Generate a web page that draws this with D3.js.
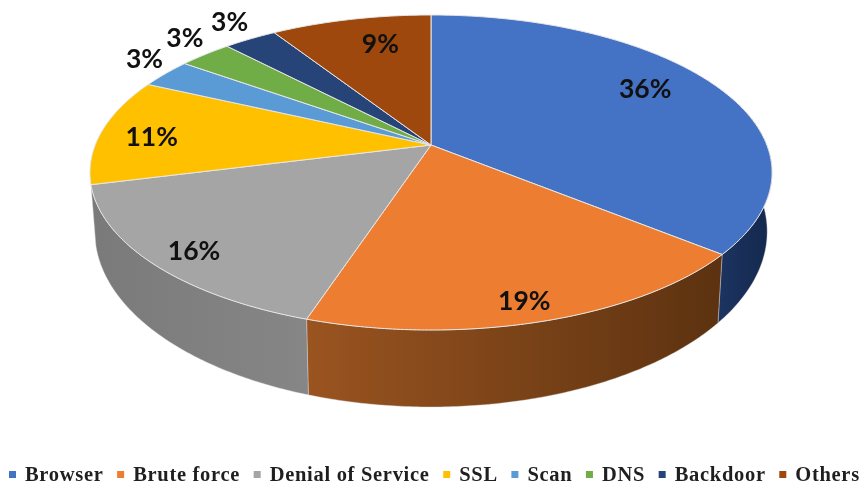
<!DOCTYPE html>
<html>
<head>
<meta charset="utf-8">
<script src="https://cdn.jsdelivr.net/npm/d3@7/dist/d3.min.js"></script>
<style>
    html, body { margin: 0; background: #fff; }
    svg { display: block; filter: blur(0.6px); }
</style>
</head>
<body>
<svg id="chart" width="862" height="484"></svg>
<script>
// Chart data
const categories = ['Browser', 'Brute force', 'Denial of Service', 'SSL', 'Scan', 'DNS', 'Backdoor', 'Others'];
const shares = [36, 19, 16, 11, 3, 3, 3, 9];
const colors = ['#4472c4', '#ed7d31', '#a5a5a5', '#ffc000', '#5b9bd5', '#70ad47', '#264478', '#9e480e'];

// Side wall shading, left to right, for the slices that show a wall
const wallShades = {
    'Browser': ['#1c3461', '#14284d'],
    'Brute force': ['#9a5420', '#5c3210'],
    'Denial of Service': ['#7a7a7a', '#868686']
};

// Where each label sits, as a nudge from the slice's inner point
const labelNudges = [[12, -14], [19, 39], [-50, 25], [-48, 1], [-96, -36], [-83, -43], [-70, -47], [8, -10]];

const svg = d3.select('#chart');
const defs = svg.append('defs');

// The pie is tilted, so the apex is not the middle of the ellipse
const tilt = 0.1746;
const topFace = { cx: 431, cy: 145, rx: 335.8, ry: 152.7 };
const baseFace = { cx: 431, cy: 201, rx: 331, ry: 170 };

function project(face, angle, r = 1) {
    const u = r * Math.sin(angle);
    const v = r * Math.cos(angle);
    const w = 1 + tilt * v;
    return [face.cx + face.rx * u / w, face.cy - face.ry * v / w];
}

function rim(face, start, end) {
    const steps = Math.max(2, Math.ceil((end - start) / 0.01));
    return d3.range(steps + 1).map(i => project(face, start + (end - start) * i / steps));
}

const line = d3.line();
const arcs = d3.pie().sort(null)(shares);

// Side walls first, the top face covers what is behind it
const wallFrom = Math.PI * 0.4;
const walls = svg.append('g');
arcs.forEach((d, i) => {
    const shade = wallShades[categories[i]];
    if (!shade) return;
    const start = Math.max(d.startAngle, wallFrom);
    const upper = rim(topFace, start, d.endAngle);
    const lower = rim(baseFace, start, d.endAngle).reverse();
    const xs = upper.concat(lower).map(p => p[0]);

    const gradient = defs.append('linearGradient')
        .attr('id', `wall-${i}`)
        .attr('gradientUnits', 'userSpaceOnUse')
        .attr('x1', d3.min(xs)).attr('x2', d3.max(xs))
        .attr('y1', 0).attr('y2', 0);
    gradient.append('stop').attr('offset', 0).attr('stop-color', shade[0]);
    gradient.append('stop').attr('offset', 1).attr('stop-color', shade[1]);

    walls.append('path')
        .attr('d', line(upper.concat(lower)) + 'Z')
        .attr('fill', `url(#wall-${i})`)
        .attr('stroke', '#d9d9d9')
        .attr('stroke-width', 0.8)
        .attr('stroke-opacity', 0.5);
});

// Top face
svg.append('g')
    .selectAll('path')
    .data(arcs)
    .join('path')
    .attr('d', d => line([[topFace.cx, topFace.cy]].concat(rim(topFace, d.startAngle, d.endAngle))) + 'Z')
    .attr('fill', (d, i) => colors[i])
    .attr('stroke', '#e6e6e6')
    .attr('stroke-width', 1)
    .attr('stroke-linejoin', 'round');

// Percent labels
svg.append('g')
    .selectAll('text')
    .data(arcs)
    .join('text')
    .attr('transform', (d, i) => {
        const p = project(topFace, (d.startAngle + d.endAngle) / 2, 0.7);
        return `translate(${p[0] + labelNudges[i][0]},${p[1] + labelNudges[i][1]})`;
    })
    .attr('text-anchor', 'middle')
    .attr('dominant-baseline', 'central')
    .attr('font-family', 'Lato, sans-serif')
    .attr('font-weight', 700)
    .attr('font-size', 26.5)
    .attr('fill', '#111')
    .text(d => `${d.data}%`);

// Legend runs along the bottom, one item after the other
const legend = svg.append('g');
let legendX = 9;
categories.forEach((name, i) => {
    legend.append('rect')
        .attr('x', legendX).attr('y', 471)
        .attr('width', 7).attr('height', 7)
        .attr('fill', colors[i]);
    const label = legend.append('text')
        .attr('x', legendX + 16).attr('y', 481)
        .attr('font-family', '"Liberation Serif", serif')
        .attr('font-weight', 700)
        .attr('font-size', 20.5)
        .attr('letter-spacing', 0.7)
        .attr('fill', '#1f1f1f')
        .text(name);
    legendX += 16 + label.node().getComputedTextLength() + 13.6;
});
</script>
</body>
</html>
